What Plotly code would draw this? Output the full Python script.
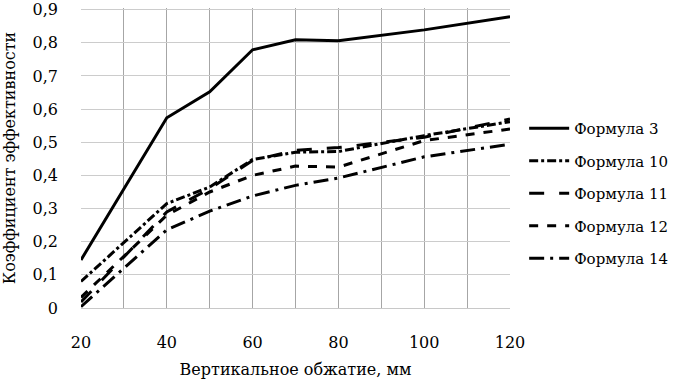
import plotly.graph_objects as go

x_mm = [20, 40, 50, 60, 70, 80, 100, 120]
f3 = [0.145, 0.574, 0.652, 0.779, 0.809, 0.806, 0.839, 0.879]
f10 = [0.08, 0.315, 0.365, 0.448, 0.470, 0.472, 0.520, 0.562]
f11 = [0.018, 0.290, 0.360, 0.445, 0.476, 0.484, 0.515, 0.570]
f12 = [0.032, 0.280, 0.350, 0.400, 0.428, 0.425, 0.505, 0.540]
f14 = [0.004, 0.236, 0.292, 0.338, 0.370, 0.392, 0.456, 0.494]

series_names = ["Формула 3", "Формула 10", "Формула 11", "Формула 12", "Формула 14"]
series_values = [f3, f10, f11, f12, f14]
series_dash = ["solid", "dashdot", "longdash", "dash", "longdashdot"]

y_tickvals = [0, 0.1, 0.2, 0.3, 0.4, 0.5, 0.6, 0.7, 0.8, 0.9]
y_ticktext = ["0", "0,1", "0,2", "0,3", "0,4", "0,5", "0,6", "0,7", "0,8", "0,9"]
x_tickvals = [20, 40, 60, 80, 100, 120]
x_ticktext = ["20", "40", "60", "80", "100", "120"]

FONT = "DejaVu Serif"

fig = go.Figure()
for i, (name, vals, dash) in enumerate(zip(series_names, series_values, series_dash)):
    fig.add_trace(go.Scatter(
        x=x_mm, y=vals, name=name, mode="lines",
        line=dict(color="black", width=3, dash=dash),
        legendgroup=f"g{i}",
    ))

fig.update_layout(
    width=675, height=381,
    margin=dict(l=81, r=165, t=8, b=73, autoexpand=False),
    paper_bgcolor="white", plot_bgcolor="white",
    font=dict(family=FONT, size=15, color="black"),
    showlegend=True,
    legend=dict(
        x=1.033, y=0.653, xanchor="left", yanchor="top",
        font=dict(family=FONT, size=15, color="black"),
        tracegroupgap=10, itemwidth=40, bgcolor="rgba(0,0,0,0)",
    ),
    xaxis=dict(
        range=[20, 120], tickvals=x_tickvals, ticktext=x_ticktext,
        showgrid=True, gridcolor="#a6a6a6", gridwidth=1,
        minor=dict(dtick=10, tick0=20, showgrid=True, gridcolor="#a6a6a6", gridwidth=1),
        zeroline=False, showline=True, linecolor="#c8c8c8", linewidth=1,
        ticks="", ticklabelstandoff=20, automargin=False,
        title=dict(text="Вертикальное обжатие, мм", font=dict(family=FONT, size=16), standoff=12),
        tickfont=dict(family=FONT, size=16),
    ),
    yaxis=dict(
        range=[0, 0.905], tickvals=y_tickvals, ticktext=y_ticktext,
        showgrid=True, gridcolor="#cccccc", gridwidth=1,
        zeroline=False, showline=False,
        ticks="", ticklabelstandoff=22, automargin=False,
        title=dict(text="Коэффициент эффективности", font=dict(family=FONT, size=16), standoff=14),
        tickfont=dict(family=FONT, size=16),
    ),
)

fig.write_html(
    "out.html",
    config={"displayModeBar": False},
    post_script="document.body.style.margin='0';document.body.style.overflow='hidden';",
)
